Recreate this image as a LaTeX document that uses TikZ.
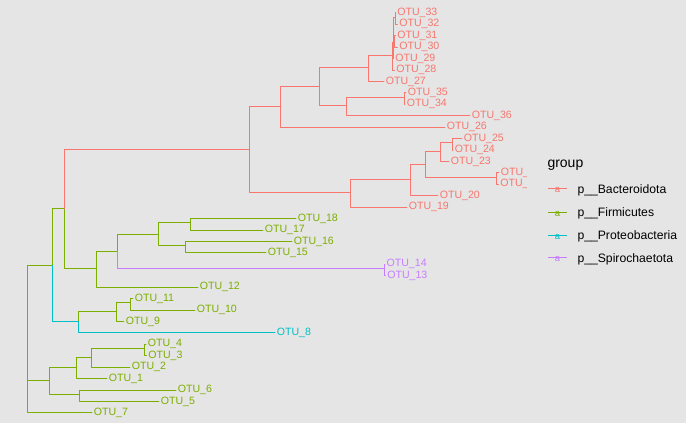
\documentclass[tikz,border=0pt]{standalone}
\usepackage{fontspec}
\setmainfont{Liberation Sans}
\usepackage{xcolor}
\usepackage{tikz}
\tikzset{>=latex}
\usetikzlibrary{calc}
\definecolor{bgc}{HTML}{E5E5E5}
\definecolor{bact}{HTML}{F8766D}
\definecolor{firm}{HTML}{7CAE00}
\definecolor{prot}{HTML}{00BFC4}
\definecolor{spir}{HTML}{C77CFF}
\tikzset{
  edge/.style={line width=0.9pt},
  tiplab/.style={anchor=west,inner xsep=1.6pt,inner ysep=0pt,yshift=-1.4pt,font=\fontsize{10.6}{12}\selectfont},
  keylab/.style={anchor=west,inner sep=0pt,yshift=-1.8pt,font=\fontsize{12.2}{14}\selectfont},
}

\begin{document}
\begin{tikzpicture}[line cap=round,line join=round,x=1pt,y=11.43pt]
		\fill[bgc] (0,-0.022) rectangle (686,36.98);
		% internal nodes of the tree
		\foreach \n/\x/\k in {R/27/6.16, A/52/13.79, B/49.3/3.69, C/76.3/4.875, D/79.3/2.5,
			E/91.3/5.75, F/144.3/6.5, I/78.3/8.875, H/116.3/9.75, G/130/10.5,
			K/64.3/18.72, M/96.3/13.5, N/117.3/15, O/158.3/16.5, Q/190/17.5,
			Rb/185.3/15.5, P/384.3/13.5, L/249.3/23.93, S/280.3/27.70, U/319.3/29.41,
			V/368.3/31.06, Y/392.5/32.125, Ya/393/33.25, Yb/393.5/34.5, Yc/395/35.5,
			Yd/394.5/33.5, W/346.3/27.75, X/404.5/28.5, T/350.3/20.16, Ta/410.7/21.31,
			Tb/425.3/22.625, Tc/440.7/23.75, Td/452.7/24.5, Te/496.7/21.5}
			\coordinate (n\n) at (\x,\k);
		\begin{scope}
		\clip (0,-0.1) rectangle (526,37);
		% tip labels
		\foreach \n/\x/\k/\c in {33/395.5/36/bact, 32/397.5/35/bact, 31/395.5/34/bact, 30/397.5/33/bact,
			29/393.5/32/bact, 28/394.5/31/bact, 27/384/30/bact, 35/406/29/bact, 34/405/28/bact,
			36/470/27/bact, 26/445/26/bact, 25/462/25/bact, 24/453/24/bact, 23/449/23/bact,
			22/499/22/bact, 21/498.5/21/bact, 20/438/20/bact, 19/407/19/bact,
			18/296/18/firm, 17/263/17/firm, 16/292/16/firm, 15/266/15/firm,
			14/384.8/14/spir, 13/385.5/13/spir, 12/198/12/firm, 11/133/11/firm,
			10/195/10/firm, 9/124/9/firm, 8/275/8/prot, 4/146/7/firm, 3/146.5/6/firm,
			2/130/5/firm, 1/107/4/firm, 6/176/3/firm, 5/159/2/firm, 7/92/1/firm}
			\node[tiplab,text=\c] (t\n) at (\x,\k) {OTU\_\n};
		% branches, coloured by group
		\foreach \a/\b in {nR/nA, nR/nB, nR/t7, nB/nC, nB/nD, nC/nE, nC/t1, nE/nF, nE/t2,
			nF/t4, nF/t3, nD/t6, nD/t5, nA/nK, nK/nM, nM/nN, nM/t12, nN/nO, nO/nQ, nO/nRb,
			nQ/t18, nQ/t17, nRb/t16, nRb/t15, nI/nH, nH/nG, nH/t9, nG/t11, nG/t10}
			\draw[edge,firm] (\a) |- (\b);
		\foreach \a/\b in {nA/nI, nI/t8}
			\draw[edge,prot] (\a) |- (\b);
		\foreach \a/\b in {nN/nP, nP/t14, nP/t13}
			\draw[edge,spir] (\a) |- (\b);
		\foreach \a/\b in {nK/nL, nL/nS, nL/nT, nS/nU, nS/t26, nU/nV, nU/nW, nV/nY, nV/t27,
			nY/nYa, nY/t28, nYa/nYb, nYa/t29, nYb/nYc, nYb/nYd, nYc/t33, nYc/t32, nYd/t31,
			nYd/t30, nW/nX, nW/t36, nX/t35, nX/t34, nT/nTa, nT/t19, nTa/nTb, nTa/t20,
			nTb/nTc, nTb/nTe, nTc/nTd, nTc/t23, nTd/t25, nTd/t24, nTe/t22, nTe/t21}
			\draw[edge,bact] (\a) |- (\b);
		\end{scope}
		% legend
		\node[anchor=west,inner sep=0pt,yshift=-1.8pt,font=\fontsize{14}{16}\selectfont] (title) at (547.3,22.70) {group};
		\foreach \g/\c/\k in {Bacteroidota/bact/20.52, Firmicutes/firm/18.45,
			Proteobacteria/prot/16.44, Spirochaetota/spir/14.46} {
			\coordinate (k\g) at (548.3,\k);
			\coordinate (e\g) at (566.7,\k);
			\draw[\c,line width=0.8pt,line cap=butt] (k\g) -- (e\g);
			\node[text=\c,inner sep=0pt,yshift=-1.5pt,font=\fontsize{9.5}{10}\selectfont] at ($(k\g)!0.5!(e\g)$) {a};
			\node[keylab] (l\g) at (577.3,\k) {p\_\_\g};
		}
		\end{tikzpicture}
\end{document}
